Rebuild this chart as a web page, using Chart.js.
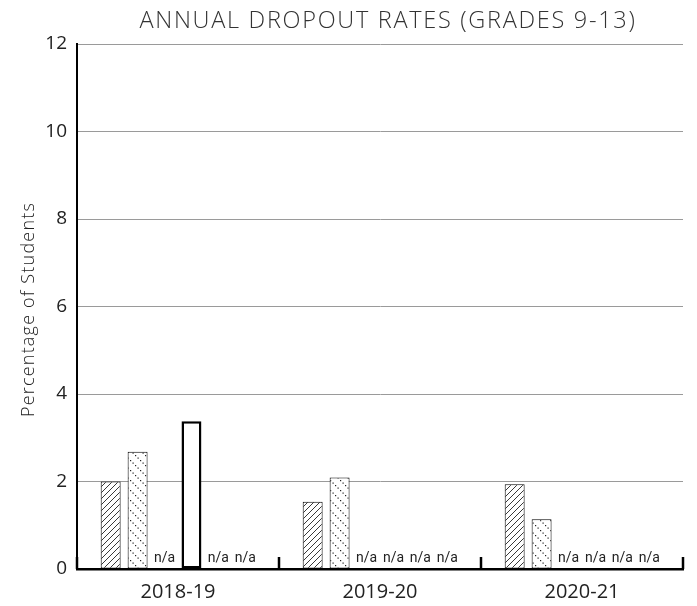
<!DOCTYPE html>
<html>
<head>
<meta charset="utf-8">
<script src="https://cdn.jsdelivr.net/npm/chart.js@4/dist/chart.umd.min.js"></script>
<style>
  html, body { margin: 0; padding: 0; background: #fff; }
  #wrap { width: 697px; height: 606px; }
</style>
</head>
<body>
<div id="wrap"><canvas id="bieudo" width="697" height="606"></canvas></div>
<script>
const nam = ["2018-19", "2019-20", "2020-21"];
// 6 nhom so lieu, null = n/a
const nhom1 = [2.0, 1.54, 1.94];
const nhom2 = [2.68, 2.09, 1.14];
const nhom3 = [null, null, null];
const nhom4 = [3.38, null, null];
const nhom5 = [null, null, null];
const nhom6 = [null, null, null];
const yTicks = [0, 2, 4, 6, 8, 10, 12];

// hoa van gach cheo
function hatch() {
  const c = document.createElement("canvas");
  c.width = 6; c.height = 6;
  const g = c.getContext("2d");
  g.fillStyle = "#fff"; g.fillRect(0, 0, 6, 6);
  g.strokeStyle = "#222"; g.lineWidth = 0.9;
  g.beginPath();
  g.moveTo(0, 6); g.lineTo(6, 0);
  g.moveTo(-1, 1); g.lineTo(1, -1);
  g.moveTo(5, 7); g.lineTo(7, 5);
  g.stroke();
  return g.createPattern(c, "repeat");
}
// hoa van cham cheo
function dots() {
  const c = document.createElement("canvas");
  c.width = 10; c.height = 10;
  const g = c.getContext("2d");
  g.fillStyle = "#fff"; g.fillRect(0, 0, 10, 10);
  g.fillStyle = "#222";
  for (let k = 0; k < 10; k += 2.5) g.fillRect(k, k, 1.2, 1.2);
  return g.createPattern(c, "repeat");
}

const naPlugin = {
  id: "na",
  afterDatasetsDraw(chart) {
    const ctx = chart.ctx;
    const xs = chart.scales.x;
    const ys = chart.scales.y;
    const ca = chart.chartArea;
    ctx.save();
    ctx.font = "14px 'Liberation Sans Narrow', Roboto, sans-serif";
    ctx.fillStyle = "#222";
    ctx.textAlign = "center";
    ctx.textBaseline = "alphabetic";
    chart.data.datasets.forEach((ds, di) => {
      const meta = chart.getDatasetMeta(di);
      ds.data.forEach((v, i) => {
        if (v === null) {
          const el = meta.data[i];
          ctx.fillText("n/a", el.x, ys.getPixelForValue(0) - 7);
        }
      });
    });
    // vach chia nhom huong len
    const w = xs.width / nam.length;
    ctx.strokeStyle = "#000";
    ctx.lineWidth = 2.5;
    for (let i = 0; i <= nam.length; i++) {
      const x = xs.left + w * i;
      ctx.beginPath();
      ctx.moveTo(x, ys.bottom);
      ctx.lineTo(x, ys.bottom - 12);
      ctx.stroke();
    }
    // tieu de
    ctx.font = "300 23.5px 'Open Sans', Lato, sans-serif";
    ctx.letterSpacing = "1.7px";
    ctx.fillStyle = "#333";
    ctx.textBaseline = "middle";
    ctx.fillText("ANNUAL DROPOUT RATES (GRADES 9-13)", (ca.left + ca.right) / 2 + 8, 21);
    // tieu de truc y
    ctx.font = "300 18px 'Open Sans', Lato, sans-serif";
    ctx.letterSpacing = "1.2px";
    ctx.fillStyle = "#222";
    ctx.translate(29, (ca.top + ca.bottom) / 2 + 3);
    ctx.rotate(-Math.PI / 2);
    ctx.fillText("Percentage of Students", 0, 0);
    ctx.restore();
  }
};

const ctx = document.getElementById("bieudo").getContext("2d");
const bar = (label, data, bg, bw) => ({
  label: label, data: data, backgroundColor: bg,
  borderColor: "#000", borderWidth: bw, borderSkipped: false
});

new Chart(ctx, {
  type: "bar",
  data: {
    labels: nam,
    datasets: [
      bar("Nhom 1", nhom1, hatch(), 1),
      bar("Nhom 2", nhom2, dots(), 1),
      bar("Nhom 3", nhom3, "#fff", 1),
      bar("Nhom 4", nhom4, "#fff", 2.5),
      bar("Nhom 5", nhom5, "#fff", 1),
      bar("Nhom 6", nhom6, "#fff", 1)
    ]
  },
  options: {
    responsive: false,
    animation: false,
    layout: { padding: { top: 44, right: 14, left: 0, bottom: 0 } },
    plugins: { legend: { display: false }, tooltip: { enabled: false }, title: { display: false } },
    datasets: { bar: { categoryPercentage: 0.8, barPercentage: 0.74 } },
    scales: {
      x: {
        grid: { display: false },
        border: { color: "#000", width: 2.5 },
        ticks: { color: "#222", font: { family: "'Open Sans'", size: 20 }, padding: 3 },
        afterFit(s) { s.height = 37; }
      },
      y: {
        min: 0, max: 12,
        afterBuildTicks(s) { s.ticks = yTicks.map(v => ({ value: v })); },
        grid: { color: "#9a9a9a", lineWidth: 1, drawTicks: false },
        border: { color: "#000", width: 2 },
        ticks: { color: "#222", font: { family: "'Open Sans'", size: 19 }, padding: 10 },
        afterFit(s) { s.width = 77; }
      }
    }
  },
  plugins: [naPlugin]
});
</script>
</body>
</html>
